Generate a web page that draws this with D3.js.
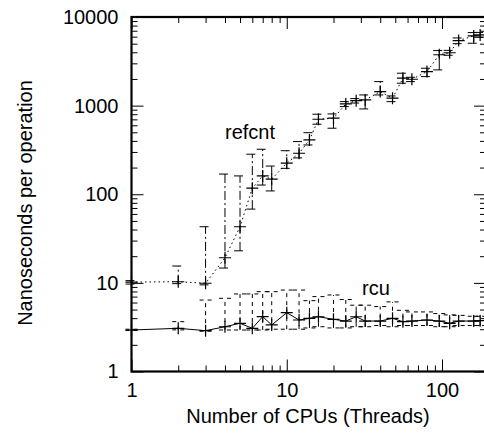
<!DOCTYPE html>
<html>
<head>
<meta charset="utf-8">
<script src="https://cdn.jsdelivr.net/npm/d3@7"></script>
<style>
  html, body { margin: 0; padding: 0; background: #fff; overflow: hidden; }
  svg text { font-family: "Liberation Sans", Arial, Helvetica, sans-serif; fill: #000; }
</style>
</head>
<body>
<svg id="chart" width="484" height="433"></svg>
<script>
// ---- data ----
const cpus = [1, 2, 3, 4, 5, 6, 7, 8, 10, 12, 14, 16, 20, 24, 28, 32, 40, 48, 56, 64, 80, 96, 112, 128, 160, 176];

const refcntMean = [10.2, 10.3, 9.9, 19.2, 43, 117, 161, 148, 224, 290, 410, 702, 721, 1045, 1138, 1159, 1439, 1212, 2038, 1985, 2420, 3750, 3950, 5420, 6120, 6280];
const refcntLow  = [9.7, 9.8, 9.5, 14.7, 23, 68, 127, 109, 196, 257, 360, 617, 556, 975, 1070, 918, 1320, 1109, 1790, 1866, 2125, 2530, 3700, 5000, 5060, 5900];
const refcntHigh = [10.6, 15.5, 43, 169, 161, 283, 322, 208, 310, 393, 495, 800, 806, 1110, 1200, 1320, 1866, 1286, 2321, 2090, 2640, 4180, 4200, 5800, 6670, 6700];

const rcuMean = [2.94, 3.07, 2.89, 3.2, 3.5, 3.07, 4.16, 3.35, 4.61, 3.81, 3.98, 4.15, 3.88, 3.71, 4.15, 3.71, 3.71, 3.98, 3.65, 3.71, 3.81, 3.71, 3.5, 3.71, 3.71, 3.75];
const rcuLow   = [2.9, 2.95, 2.85, 2.94, 2.94, 2.94, 2.94, 3.0, 3.0, 3.0, 3.1, 3.2, 3.1, 3.1, 3.2, 3.2, 3.3, 3.2, 3.3, 3.3, 3.3, 3.2, 3.2, 3.3, 3.3, 3.3];
const rcuHigh  = [3.0, 3.65, 6.4, 6.7, 7.5, 7.5, 7.96, 7.96, 8.3, 8.3, 6.3, 7.0, 7.3, 6.5, 5.6, 5.6, 5.4, 6.1, 4.9, 4.7, 4.7, 4.5, 4.35, 4.3, 4.2, 4.2];

const xMajorTicks = [1, 10, 100];
const xMinorTicks = [2, 3, 4, 5, 6, 7, 8, 9, 20, 30, 40, 50, 60, 70, 80, 90];
const yMajorTicks = [1, 10, 100, 1000, 10000];
const yMinorTicks = [];
[1, 10, 100, 1000].forEach(d => { for (let k = 2; k <= 9; k++) yMinorTicks.push(d * k); });

const xTitle = "Number of CPUs (Threads)";
const yTitle = "Nanoseconds per operation";
const seriesLabels = ["refcnt", "rcu"];

// ---- layout ----
const L = 131.5, R = 486, T = 17, B = 371.5;
const FS = 20;
const svg = d3.select("#chart");

const x = d3.scaleLog().domain([1, 192]).range([L, R]);
const y = d3.scaleLog().domain([1, 10000]).range([B, T]);

function styleAxis(g) {
  g.select(".domain").remove();
  g.selectAll(".tick line").attr("stroke", "#000").attr("stroke-width", 1);
  g.selectAll("text").attr("font-size", FS).attr("fill", "#000")
    .attr("font-family", '"Liberation Sans", Arial, Helvetica, sans-serif');
}

// bottom
svg.append("g").attr("transform", `translate(0,${B})`)
  .call(d3.axisBottom(x).tickValues(xMajorTicks).tickFormat(d3.format("d")).tickSizeInner(-12).tickSizeOuter(0).tickPadding(11))
  .call(styleAxis);
svg.append("g").attr("transform", `translate(0,${B})`)
  .call(d3.axisBottom(x).tickValues(xMinorTicks).tickFormat("").tickSizeInner(-6).tickSizeOuter(0))
  .call(styleAxis);
// top
svg.append("g").attr("transform", `translate(0,${T})`)
  .call(d3.axisTop(x).tickValues(xMajorTicks).tickFormat("").tickSizeInner(-12).tickSizeOuter(0))
  .call(styleAxis);
svg.append("g").attr("transform", `translate(0,${T})`)
  .call(d3.axisTop(x).tickValues(xMinorTicks).tickFormat("").tickSizeInner(-6).tickSizeOuter(0))
  .call(styleAxis);
// left
svg.append("g").attr("transform", `translate(${L},0)`)
  .call(d3.axisLeft(y).tickValues(yMajorTicks).tickFormat(d3.format("d")).tickSizeInner(-12).tickSizeOuter(0).tickPadding(13))
  .call(styleAxis);
svg.append("g").attr("transform", `translate(${L},0)`)
  .call(d3.axisLeft(y).tickValues(yMinorTicks).tickFormat("").tickSizeInner(-6).tickSizeOuter(0))
  .call(styleAxis);
// right
svg.append("g").attr("transform", `translate(${R},0)`)
  .call(d3.axisRight(y).tickValues(yMajorTicks).tickFormat("").tickSizeInner(-12).tickSizeOuter(0))
  .call(styleAxis);
svg.append("g").attr("transform", `translate(${R},0)`)
  .call(d3.axisRight(y).tickValues(yMinorTicks).tickFormat("").tickSizeInner(-6).tickSizeOuter(0))
  .call(styleAxis);

// frame
svg.append("rect").attr("x", L).attr("y", T).attr("width", R - L).attr("height", B - T)
  .attr("fill", "none").attr("stroke", "#000").attr("stroke-width", 2.2);

// ---- series ----
function drawSeries(mean, low, high, lineDash, barDash) {
  const g = svg.append("g");
  const pts = cpus.map((c, i) => ({ c, m: mean[i], lo: low[i], hi: high[i] }));
  const cap = 6;
  // error bars
  g.selectAll(".eb").data(pts).enter().append("line")
    .attr("x1", d => x(d.c)).attr("x2", d => x(d.c))
    .attr("y1", d => y(d.lo)).attr("y2", d => y(d.hi))
    .attr("stroke", "#000").attr("stroke-width", 1).attr("stroke-dasharray", barDash);
  g.selectAll(".capHi").data(pts).enter().append("line")
    .attr("x1", d => x(d.c) - cap).attr("x2", d => x(d.c) + cap)
    .attr("y1", d => y(d.hi)).attr("y2", d => y(d.hi))
    .attr("stroke", "#000").attr("stroke-width", 1).attr("stroke-dasharray", barDash);
  g.selectAll(".capLo").data(pts).enter().append("line")
    .attr("x1", d => x(d.c) - cap).attr("x2", d => x(d.c) + cap)
    .attr("y1", d => y(d.lo)).attr("y2", d => y(d.lo))
    .attr("stroke", "#000").attr("stroke-width", 1).attr("stroke-dasharray", barDash);
  // line
  g.append("path").datum(pts)
    .attr("d", d3.line().x(d => x(d.c)).y(d => y(d.m)))
    .attr("fill", "none").attr("stroke", "#000").attr("stroke-width", 1)
    .attr("stroke-dasharray", lineDash);
  // plus markers
  const s = 6;
  g.selectAll(".pm").data(pts).enter().append("path")
    .attr("d", d => `M${x(d.c) - s},${y(d.m)}H${x(d.c) + s}M${x(d.c)},${y(d.m) - s}V${y(d.m) + s}`)
    .attr("stroke", "#000").attr("stroke-width", 1.2).attr("fill", "none");
}

drawSeries(refcntMean, refcntLow, refcntHigh, "1.5,3", "9,3,2,3");
drawSeries(rcuMean, rcuLow, rcuHigh, null, "4,4");

// series labels
svg.append("text").attr("x", 225).attr("y", 139).attr("font-size", FS).text(seriesLabels[0]);
svg.append("text").attr("x", 362).attr("y", 295).attr("font-size", FS).text(seriesLabels[1]);

// axis titles
svg.append("text").attr("x", 308).attr("y", 423).attr("text-anchor", "middle")
  .attr("font-size", FS).text(xTitle);
svg.append("text").attr("transform", "translate(32,203) rotate(-90)").attr("text-anchor", "middle")
  .attr("font-size", FS).text(yTitle);
</script>
</body>
</html>
